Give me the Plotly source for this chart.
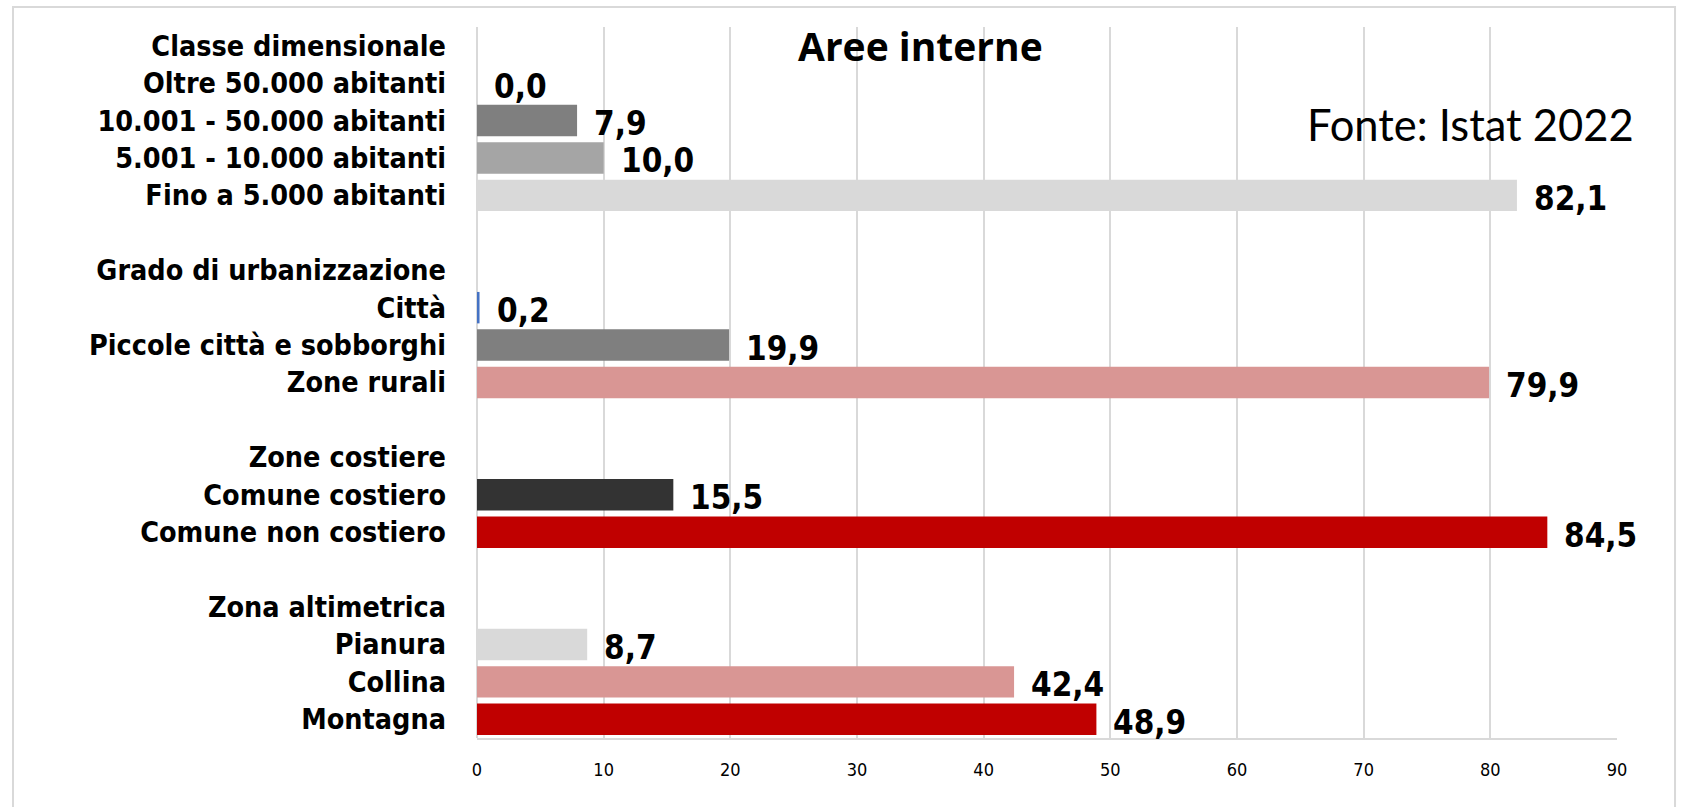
import plotly.graph_objects as go

categories = [
    "Classe dimensionale", "Oltre 50.000 abitanti", "10.001 - 50.000 abitanti",
    "5.001 - 10.000 abitanti", "Fino a 5.000 abitanti", " ",
    "Grado di urbanizzazione", "Città", "Piccole città e sobborghi", "Zone rurali", "  ",
    "Zone costiere", "Comune costiero", "Comune non costiero", "   ",
    "Zona altimetrica", "Pianura", "Collina", "Montagna",
]
values = [None, 0.0, 7.9, 10.0, 82.1, None,
          None, 0.2, 19.9, 79.9, None,
          None, 15.5, 84.5, None,
          None, 8.7, 42.4, 48.9]
value_labels = [None, "0,0", "7,9", "10,0", "82,1", None,
                None, "0,2", "19,9", "79,9", None,
                None, "15,5", "84,5", None,
                None, "8,7", "42,4", "48,9"]
bar_colors = ["#ffffff", "#595959", "#7f7f7f", "#a5a5a5", "#d9d9d9", "#ffffff",
              "#ffffff", "#4472c4", "#7f7f7f", "#d99694", "#ffffff",
              "#ffffff", "#333333", "#c00000", "#ffffff",
              "#ffffff", "#d9d9d9", "#d99694", "#c00000"]
x_ticks = [0, 10, 20, 30, 40, 50, 60, 70, 80, 90]

NARROW = "Liberation Sans Narrow, Arial Narrow, DejaVu Sans Condensed, sans-serif"

fig = go.Figure()
fig.add_trace(go.Bar(
    y=categories, x=values, orientation="h",
    marker=dict(color=bar_colors, line=dict(width=0)),
    hoverinfo="skip",
))

for c, v, t in zip(categories, values, value_labels):
    if v is None:
        continue
    fig.add_annotation(x=v, y=c, xref="x", yref="y", text=f"<b>{t}</b>",
                       showarrow=False, xanchor="left", yanchor="middle",
                       xshift=15, yshift=-3,
                       font=dict(family=NARROW, size=33, color="#000000"))

fig.add_annotation(x=0.389, y=0.974, xref="paper", yref="paper",
                   text="<b>Aree interne</b>", showarrow=False,
                   xanchor="center", yanchor="middle",
                   font=dict(family="Open Sans, sans-serif", size=39, color="#000000",
                             weight=700))
fig.add_annotation(x=1.017, y=0.864, xref="paper", yref="paper",
                   text="Fonte: Istat 2022", showarrow=False,
                   xanchor="right", yanchor="middle",
                   font=dict(family="Lato, Open Sans, sans-serif", size=43.5, color="#000000"))

fig.add_shape(type="rect", xref="paper", yref="paper",
              x0=-0.407, x1=1.0509, y0=-0.15, y1=1.028,
              line=dict(color="#d9d9d9", width=2), fillcolor="rgba(0,0,0,0)", layer="below")

fig.update_layout(
    width=1701, height=807,
    margin=dict(l=477, r=84, t=27, b=69),
    paper_bgcolor="#ffffff", plot_bgcolor="#ffffff",
    bargap=0.16, showlegend=False,
    xaxis=dict(range=[0, 90], tickvals=x_ticks, ticktext=[str(t) for t in x_ticks],
               showgrid=True, gridcolor="#d9d9d9", gridwidth=2,
               zeroline=True, zerolinecolor="#d9d9d9", zerolinewidth=2,
               showline=True, linecolor="#d9d9d9", linewidth=2,
               ticks="", ticklabelstandoff=14,
               tickfont=dict(family=NARROW, size=18, color="#000000")),
    yaxis=dict(type="category", categoryorder="array", categoryarray=categories,
               autorange="reversed", showgrid=False, zeroline=False,
               ticks="", ticklabelstandoff=30,
               tickfont=dict(family=NARROW, size=28.5, color="#000000")),
)
fig.update_yaxes(tickvals=categories,
                 ticktext=[f"<b>{c}</b>" for c in categories])

fig.write_html("out.html")
